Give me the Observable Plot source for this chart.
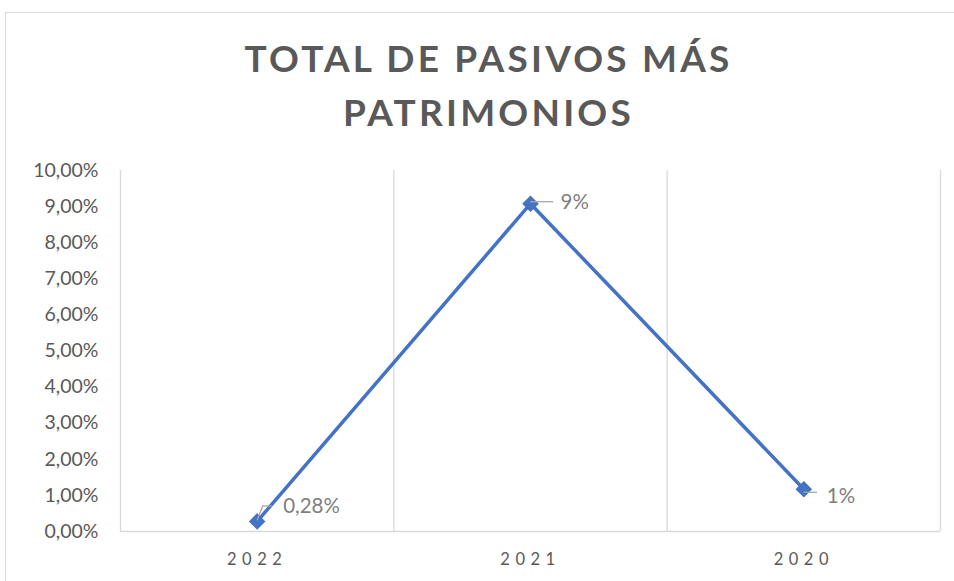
<!DOCTYPE html>
<html>
<head>
<meta charset="utf-8">
<script src="https://cdn.jsdelivr.net/npm/d3@7"></script>
<script src="https://cdn.jsdelivr.net/npm/@observablehq/plot@0.6"></script>
<style>
  html, body { margin: 0; padding: 0; background: #fff; }
  #wrap { position: relative; width: 954px; height: 581px; overflow: hidden; font-family: Lato, "Open Sans", sans-serif; }
  #frame { position: absolute; left: 5px; top: 12px; width: 980px; height: 600px; border: 1px solid #d9d9d9; box-sizing: border-box; }
  #title { position: absolute; left: 0; top: 31px; width: 977px; text-align: center; font-weight: 700; font-size: 37px; line-height: 54px; letter-spacing: 3.2px; color: #595959; }
  #chart { position: absolute; left: 0; top: 145px; }
  #chart g[aria-label="x-axis tick label"] text { letter-spacing: 5.5px; }
</style>
</head>
<body>
<div id="wrap">
  <div id="frame"></div>
  <div id="title">TOTAL DE PASIVOS MÁS<br>PATRIMONIOS</div>
  <div id="chart"></div>
</div>
<script>
const years = ["2022", "2021", "2020"];
const values = [0.0028, 0.0908, 0.0117];
const labels = ["0,28%", "9%", "1%"];
const yTicks = [0, 0.01, 0.02, 0.03, 0.04, 0.05, 0.06, 0.07, 0.08, 0.09, 0.10];

const data = years.map((y, i) => ({year: y, i: i + 0.5, value: values[i], label: labels[i]}));
const bounds = d3.range(years.length + 1);
const fmtY = d => (d * 100).toFixed(2).replace(".", ",") + "%";
const blue = "#4472c4";
const grey = "#d9d9d9";

const chart = Plot.plot({
  width: 954,
  height: 436,
  marginLeft: 120,
  marginRight: 14,
  marginTop: 25,
  marginBottom: 50,
  style: {fontFamily: "Lato, 'Open Sans', sans-serif", background: "transparent"},
  x: {type: "linear", domain: [0, years.length], axis: null},
  y: {domain: [0, 0.10], axis: null},
  marks: [
    Plot.ruleX(bounds, {x: d => d, y1: 0, y2: 0.10, stroke: grey, strokeWidth: 1.3}),
    Plot.ruleY([0], {stroke: grey, strokeWidth: 1.5}),
    Plot.axisY({ticks: yTicks, tickFormat: fmtY, tickSize: 0, tickPadding: 22, fontSize: 19.5, color: "#595959", label: null}),
    Plot.axisX({ticks: data.map(d => d.i), tickFormat: (d, k) => years[k], tickSize: 0, tickPadding: 22, fontSize: 16.5, color: "#595959", label: null}),
    Plot.line(data, {x: "i", y: "value", stroke: blue, strokeWidth: 3.5}),
    Plot.dot(data, {x: "i", y: "value", symbol: "diamond2", r: 6.5, fill: blue, stroke: blue}),
    // leader lines
    Plot.ruleY(data.filter((d, k) => k === 1), {y: "value", x1: "i", x2: d => d.i + 0.085, stroke: "#a6a6a6", strokeWidth: 1.3, dy: -2}),
    Plot.ruleY(data.filter((d, k) => k === 2), {y: "value", x1: "i", x2: d => d.i + 0.05, stroke: "#a6a6a6", strokeWidth: 1.3, dy: 3}),
    Plot.link(data.filter((d, k) => k === 0), {x1: "i", y1: "value", x2: d => d.i + 0.02, y2: d => d.value + 0.004, stroke: "#a6a6a6", strokeWidth: 1.3, dy: -1}),
    Plot.ruleY(data.filter((d, k) => k === 0), {y: d => d.value + 0.004, x1: d => d.i + 0.02, x2: d => d.i + 0.055, stroke: "#a6a6a6", strokeWidth: 1.3, dy: -1}),
    // labels
    Plot.text(data.filter((d, k) => k === 0), {x: "i", y: "value", text: "label", textAnchor: "start", dx: 26, dy: -15, fontSize: 20.5, fill: "#7f7f7f"}),
    Plot.text(data.filter((d, k) => k === 1), {x: "i", y: "value", text: "label", textAnchor: "start", dx: 30, dy: -1, fontSize: 20.5, fill: "#7f7f7f"}),
    Plot.text(data.filter((d, k) => k === 2), {x: "i", y: "value", text: "label", textAnchor: "start", dx: 23, dy: 7, fontSize: 20.5, fill: "#7f7f7f"})
  ]
});
document.getElementById("chart").appendChild(chart);
</script>
</body>
</html>
